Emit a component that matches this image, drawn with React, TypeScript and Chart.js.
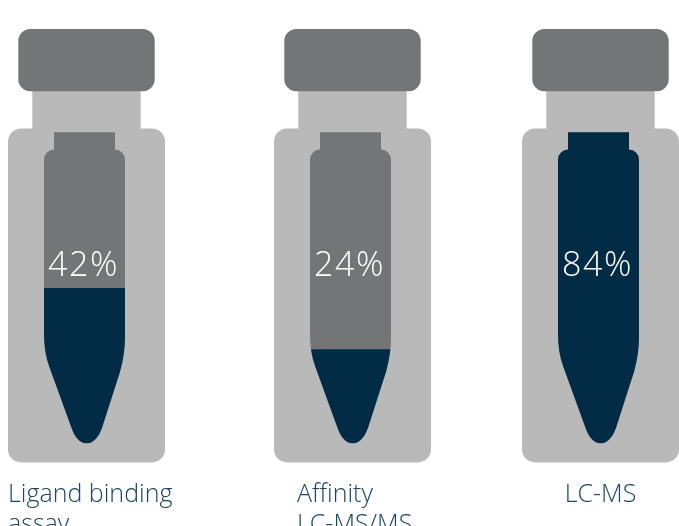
import React, { useEffect, useRef } from "react";
import { Chart, registerables } from "chart.js";

Chart.register(...registerables);

// Data
const categories: string[][] = [["Ligand binding", "assay"], ["Affinity", "LC-MS/MS"], ["LC-MS"]];
const percentLabels = [42, 24, 84];
// Visible liquid height in each vial, as share of the inner tube (tip = 0, top = 100)
const fillLevels = [49.8, 30.2, 100];

// Layout and style
const W = 679;
const H = 526;
const CENTRES = [86.5, 352.5, 600.5];
const LABEL_X = [8, 297, 600.5];
const LABEL_ALIGN: CanvasTextAlign[] = ["left", "left", "center"];
const DARK = "#022B45";
const MID = "#747576";
const LIGHT = "#B9B9B9";
const TEXT = "#1B4560";
const FONT = '"Open Sans", sans-serif';

function roundRect(ctx: CanvasRenderingContext2D, x0: number, y0: number, x1: number, y1: number, r: number) {
  ctx.beginPath();
  ctx.roundRect(x0, y0, x1 - x0, y1 - y0, r);
  ctx.fill();
}

function innerPath(ctx: CanvasRenderingContext2D, c: number) {
  const top = 132.3;
  const sh = 149.5;
  const L = c - 42.5;
  const R = c + 38.5;
  ctx.moveTo(c - 32.5, top);
  ctx.lineTo(c + 28.5, top);
  ctx.lineTo(c + 28.5, sh);
  ctx.arcTo(R, sh, R, sh + 12, 10);
  ctx.lineTo(R, 338);
  ctx.quadraticCurveTo(R, 354, c + 33.5, 372);
  ctx.lineTo(c + 15.5, 428);
  ctx.bezierCurveTo(c + 12, 438, c + 6, 443.6, c + 0.3, 443.6);
  ctx.bezierCurveTo(c - 6, 443.6, c - 11.5, 438, c - 15, 428);
  ctx.lineTo(c - 37.5, 366);
  ctx.quadraticCurveTo(L, 352, L, 335);
  ctx.lineTo(L, sh + 10);
  ctx.arcTo(L, sh, c - 32.5, sh, 10);
  ctx.lineTo(c - 32.5, sh);
  ctx.closePath();
}

const vialPlugin = {
  id: "vials",
  beforeDatasetsDraw(chart: any) {
    const { ctx } = chart;
    ctx.save();
    CENTRES.forEach((c) => {
      const x = chart.scales.x.getPixelForValue(c);
      ctx.fillStyle = LIGHT;
      ctx.fillRect(x - 54.2, 88, 108.4, 45);
      roundRect(ctx, x - 78.5, 128.5, x + 78.5, 462.4, 13);
      ctx.fillStyle = MID;
      roundRect(ctx, x - 68.2, 29, x + 68.2, 91.3, 12);
    });
    ctx.restore();
  },
  beforeDatasetDraw(chart: any) {
    const { ctx } = chart;
    ctx.save();
    ctx.beginPath();
    CENTRES.forEach((c) => innerPath(ctx, chart.scales.x.getPixelForValue(c)));
    ctx.clip();
  },
  afterDatasetDraw(chart: any) {
    chart.ctx.restore();
  },
  afterDatasetsDraw(chart: any) {
    const { ctx } = chart;
    ctx.save();
    ctx.textBaseline = "alphabetic";
    percentLabels.forEach((p, i) => {
      const x = chart.scales.x.getPixelForValue(CENTRES[i]);
      ctx.fillStyle = "#FFFFFF";
      ctx.font = `300 34px ${FONT}`;
      ctx.letterSpacing = "1.5px";
      ctx.textAlign = "center";
      ctx.fillText(`${p}%`, x - 3, 276);
    });
    ctx.letterSpacing = "0px";
    categories.forEach((lines, i) => {
      ctx.fillStyle = TEXT;
      ctx.font = `300 25px ${FONT}`;
      ctx.textAlign = LABEL_ALIGN[i];
      lines.forEach((line, j) => ctx.fillText(line, LABEL_X[i], 501.7 + j * 30));
    });
    ctx.restore();
  },
};

export default function App() {
  const ref = useRef<HTMLCanvasElement>(null);
  useEffect(() => {
    const chart = new Chart(ref.current!, {
      type: "bar",
      data: {
        datasets: [
          {
            label: "Detected",
            data: fillLevels.map((y, i) => ({ x: CENTRES[i], y })),
            backgroundColor: DARK,
            barThickness: 100,
            borderWidth: 0,
          },
          {
            label: "Remainder",
            data: fillLevels.map((y, i) => ({ x: CENTRES[i], y: 100 - y })),
            backgroundColor: MID,
            barThickness: 100,
            borderWidth: 0,
          },
        ],
      },
      options: {
        responsive: false,
        animation: false,
        devicePixelRatio: 1,
        layout: { padding: { top: 132, bottom: 82.4, left: 0, right: 0 } },
        plugins: { legend: { display: false }, tooltip: { enabled: false } },
        scales: {
          x: { type: "linear", min: 0, max: W, display: false, stacked: true, offset: false },
          y: { min: 0, max: 100, display: false, stacked: true },
        },
      },
      plugins: [vialPlugin],
    } as any);
    return () => chart.destroy();
  }, []);
  return (
    <canvas
      ref={ref}
      width={W}
      height={H}
      style={{ position: "fixed", left: 0, top: 0, width: W, height: H, display: "block" }}
    />
  );
}
